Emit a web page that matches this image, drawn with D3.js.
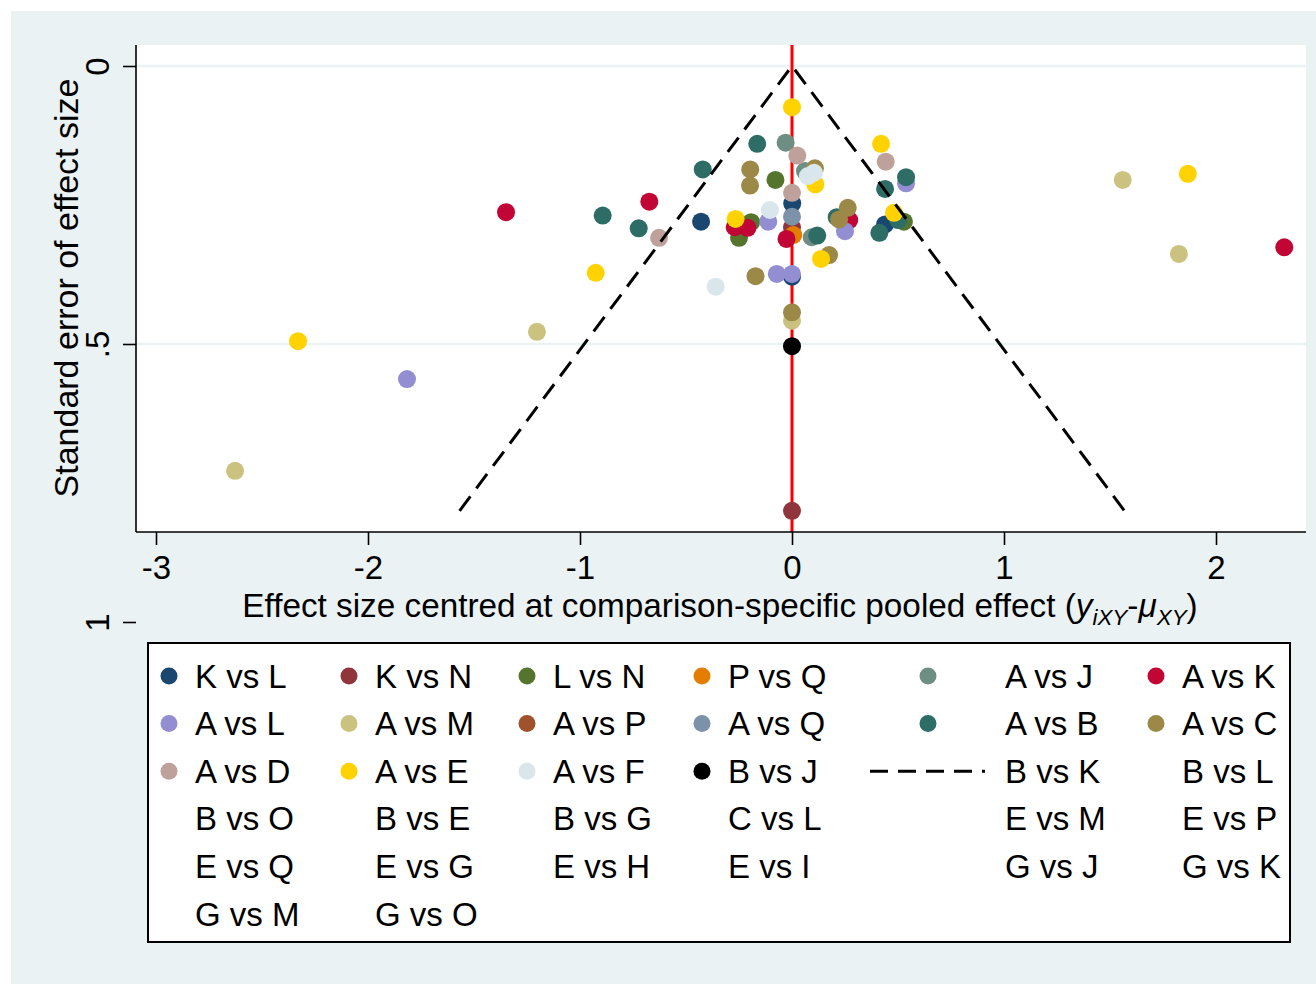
<!DOCTYPE html>
<html><head><meta charset="utf-8">
<script src="https://cdn.jsdelivr.net/npm/d3@7"></script>
<style>body{margin:0;background:#fff} svg text{font-family:"Liberation Sans",Arial,Helvetica,sans-serif;fill:#000}</style>
</head><body><svg id="c" width="1316" height="984"></svg>
<script>
// ---------- DATA ----------
const comparisons = ["K vs L","K vs N","L vs N","P vs Q","A vs J","A vs K","A vs L","A vs M",
  "A vs P","A vs Q","A vs B","A vs C","A vs D","A vs E","A vs F","B vs J"];
const legendLabels = ["K vs L","K vs N","L vs N","P vs Q","A vs J","A vs K",
  "A vs L","A vs M","A vs P","A vs Q","A vs B","A vs C",
  "A vs D","A vs E","A vs F","B vs J","B vs K","B vs L",
  "B vs O","B vs E","B vs G","C vs L","E vs M","E vs P",
  "E vs Q","E vs G","E vs H","E vs I","G vs J","G vs K",
  "G vs M","G vs O"];
// [centred effect size, standard error]
const KvsL = [[0.001,0.247],[-0.429,0.280],[0.439,0.285],[0.0,0.379]];
const KvsN = [[0.0,0.800],[0.0,0.290]];
const LvsN = [[-0.078,0.205],[-0.193,0.281],[-0.250,0.309],[0.528,0.280]];
const PvsQ = [[0.006,0.304]];
const AvsJ = [[-0.030,0.138],[0.061,0.189],[0.093,0.308]];
const AvsK = [[-1.349,0.263],[-0.673,0.244],[-0.270,0.290],[-0.210,0.291],[-0.026,0.311],[0.270,0.277],[2.322,0.326]];
const AvsL = [[-1.816,0.563],[-0.112,0.280],[0.250,0.297],[0.538,0.211],[-0.072,0.374],[0.0,0.374]];
const AvsM = [[-2.627,0.728],[-1.203,0.478],[0.0,0.458],[1.560,0.205],[1.825,0.338]];
const AvsP = [];
const AvsQ = [[0.0,0.271]];
const AvsB = [[-0.893,0.269],[-0.723,0.292],[-0.421,0.186],[-0.164,0.140],[0.119,0.305],[0.211,0.272],
  [0.439,0.221],[0.538,0.200],[0.412,0.300],[0.501,0.277]];
const AvsC = [[-0.197,0.186],[-0.198,0.215],[0.108,0.184],[0.263,0.255],[0.222,0.276],[0.175,0.340],
  [-0.172,0.378],[0.0,0.443]];
const AvsD = [[0.025,0.161],[0.442,0.172],[0.0,0.228],[-0.627,0.309]];
const AvsE = [[-2.330,0.495],[-0.926,0.372],[-0.266,0.275],[0.0,0.074],[0.110,0.213],[0.137,0.347],
  [0.420,0.140],[0.481,0.264],[1.867,0.194]];
const AvsF = [[-0.360,0.397],[-0.104,0.259],[0.075,0.198],[0.104,0.192]];
const BvsJ = [[0.0,0.504]];
const seriesData = [KvsL,KvsN,LvsN,PvsQ,AvsJ,AvsK,AvsL,AvsM,AvsP,AvsQ,AvsB,AvsC,AvsD,AvsE,AvsF,BvsJ];
const funnelX = [-1.568, 0, 1.568];
const funnelY = [0.8, 0, 0.8];
const xTicks = [-3,-2,-1,0,1,2];
const yTicks = [0,0.5,1];
const yTickLabels = ["0",".5","1"];

// ---------- STYLE ----------
const palette = ["#1a476f","#90353b","#55752f","#e37e00","#6e8e84","#c10534","#938dd2","#cac27e",
  "#a0522d","#7b92a8","#2d6d66","#9c8847","#bfa19c","#ffd200","#d9e6eb","#000000"];
const BG = "#eaf2f3";
const FS = 33;

const svg = d3.select("#c");
svg.append("rect").attr("x",11).attr("y",11).attr("width",1305).attr("height",973).attr("fill",BG);

const plot = {l:136, r:1306, t:45, b:532};
svg.append("rect").attr("x",plot.l).attr("y",plot.t).attr("width",plot.r-plot.l).attr("height",plot.b-plot.t).attr("fill","#fff");

const x = d3.scaleLinear().domain([-3,2]).range([156,1216]);
const y = d3.scaleLinear().domain([0,1]).range([66,622]);

// gridlines
svg.append("g").selectAll("line").data([0,0.5]).join("line")
  .attr("x1",plot.l).attr("x2",plot.r).attr("y1",d=>y(d)).attr("y2",d=>y(d))
  .attr("stroke",BG).attr("stroke-width",2.5);

// red reference line
svg.append("line").attr("x1",x(0)).attr("x2",x(0)).attr("y1",plot.t).attr("y2",plot.b)
  .attr("stroke","#ff0000").attr("stroke-width",3);

// points
const gp = svg.append("g");
seriesData.forEach((pts,i)=>{
  gp.append("g").selectAll("circle").data(pts).join("circle")
    .attr("cx",d=>x(d[0])).attr("cy",d=>y(d[1])).attr("r",9)
    .attr("fill",palette[i]);
});

// funnel (pseudo 95% limits)
const funnel = funnelX.map((v,i)=>[v,funnelY[i]]);
svg.append("path").datum(funnel)
  .attr("d",d3.line().x(d=>x(d[0])).y(d=>y(d[1])))
  .attr("fill","none").attr("stroke","#000").attr("stroke-width",3).attr("stroke-dasharray","18,10");

// axes
const xAxis = svg.append("g").attr("transform",`translate(0,${plot.b})`)
  .call(d3.axisBottom(x).tickValues(xTicks).tickSize(13).tickPadding(6).tickFormat(d=>String(d)));
xAxis.select(".domain").remove();
xAxis.selectAll(".tick line").attr("stroke","#000").attr("stroke-width",1.6);
xAxis.selectAll(".tick text").attr("font-size",FS).attr("dy",0).attr("y",47);
svg.append("line").attr("x1",plot.l).attr("x2",plot.r).attr("y1",plot.b).attr("y2",plot.b)
  .attr("stroke","#000").attr("stroke-width",1.6);

const yAxis = svg.append("g").attr("transform",`translate(${plot.l},0)`)
  .call(d3.axisLeft(y).tickValues(yTicks).tickSize(13).tickFormat((d,i)=>yTickLabels[i]));
yAxis.select(".domain").remove();
yAxis.selectAll(".tick line").attr("stroke","#000").attr("stroke-width",1.6);
yAxis.selectAll(".tick text").attr("font-size",FS).attr("text-anchor","middle")
  .attr("x",0).attr("dy",0).attr("y",-27).attr("transform","rotate(-90)");
svg.append("line").attr("x1",plot.l).attr("x2",plot.l).attr("y1",plot.t).attr("y2",plot.b)
  .attr("stroke","#000").attr("stroke-width",1.6);

// axis titles
svg.append("text").attr("transform","translate(78,288) rotate(-90)").attr("text-anchor","middle")
  .attr("font-size",34).text("Standard error of effect size");
const xt = svg.append("text").attr("x",720).attr("y",617).attr("text-anchor","middle").attr("font-size",33.3);
xt.append("tspan").text("Effect size centred at comparison-specific pooled effect (");
xt.append("tspan").attr("font-style","italic").text("y");
xt.append("tspan").attr("font-style","italic").attr("font-size",FS*0.68).attr("dy",8).text("iXY");
xt.append("tspan").attr("dy",-8).text("-");
xt.append("tspan").attr("font-style","italic").text("μ");
xt.append("tspan").attr("font-style","italic").attr("font-size",FS*0.68).attr("dy",8).text("XY");
xt.append("tspan").attr("dy",-8).text(")");

// legend
svg.append("rect").attr("x",148).attr("y",643).attr("width",1142).attr("height",299)
  .attr("fill","#fff").attr("stroke","#000").attr("stroke-width",2);
const keyX = [169,349,527,702,928,1156];
const txtX = [195,375,553,728,1005,1182];
const rowY = r => 676 + r*47.6;
const lg = svg.append("g");
legendLabels.forEach((lab,i)=>{
  const c = i%6, r = Math.floor(i/6);
  if(i < comparisons.length){
    lg.append("circle").attr("cx",keyX[c]).attr("cy",rowY(r)).attr("r",8.5).attr("fill",palette[i]);
  } else if(i === comparisons.length){
    lg.append("line").attr("x1",870).attr("x2",985).attr("y1",rowY(r)).attr("y2",rowY(r))
      .attr("stroke","#000").attr("stroke-width",3).attr("stroke-dasharray","18,10");
  }
  lg.append("text").attr("x",txtX[c]).attr("y",rowY(r)+11.5).attr("font-size",FS).text(lab);
});
</script></body></html>
